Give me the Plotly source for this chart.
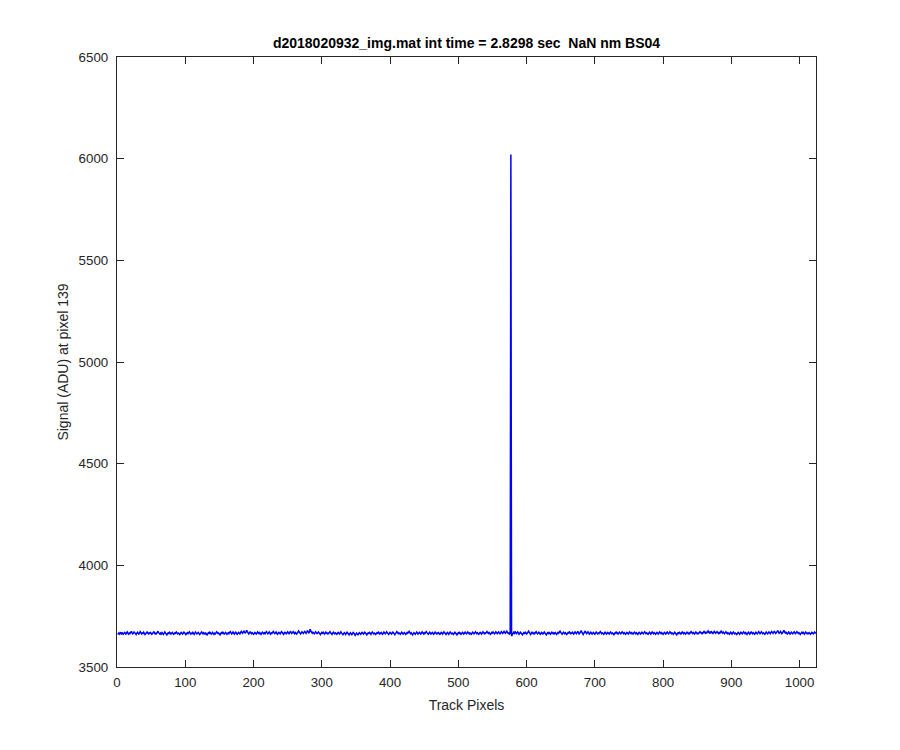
import plotly.graph_objects as go

title_text = "d2018020932_img.mat int time = 2.8298 sec  NaN nm BS04"
x_label = "Track Pixels"
y_label = "Signal (ADU) at pixel 139"

x_ticks = [0, 100, 200, 300, 400, 500, 600, 700, 800, 900, 1000]
y_ticks = [3500, 4000, 4500, 5000, 5500, 6000, 6500]

signal = [
    3660, 3664, 3668, 3662, 3666, 3671, 3663, 3667, 3660, 3665, 3670, 3666, 3662, 3669, 3673, 3665, 3661, 3667, 3664, 3670, 3675, 3668, 3663, 3666, 3672, 3669, 3664, 3660, 3667, 3671, 3665, 3662,
    3668, 3674, 3669, 3663, 3667, 3665, 3671, 3666, 3660, 3664, 3669, 3672, 3667, 3663, 3668, 3665, 3670, 3666, 3661, 3665, 3669, 3673, 3668, 3662, 3666, 3664, 3670, 3676, 3669, 3665, 3661, 3667,
    3663, 3669, 3665, 3660, 3666, 3672, 3667, 3663, 3658, 3664, 3668, 3665, 3671, 3667, 3662, 3666, 3670, 3665, 3661, 3664, 3669, 3666, 3672, 3668, 3663, 3667, 3664, 3660, 3665, 3670, 3667, 3662,
    3666, 3671, 3668, 3663, 3659, 3665, 3669, 3664, 3668, 3673, 3667, 3662, 3666, 3664, 3670, 3665, 3661, 3667, 3672, 3668, 3663, 3666, 3670, 3665, 3660, 3664, 3668, 3672, 3667, 3663, 3669, 3665,
    3662, 3667, 3663, 3658, 3664, 3669, 3666, 3671, 3667, 3662, 3665, 3670, 3664, 3660, 3666, 3663, 3668, 3673, 3669, 3664, 3667, 3662, 3658, 3665, 3669, 3666, 3671, 3667, 3662, 3665, 3670, 3666,
    3661, 3665, 3669, 3664, 3668, 3674, 3669, 3663, 3667, 3672, 3666, 3662, 3668, 3671, 3666, 3661, 3665, 3670, 3667, 3663, 3669, 3675, 3670, 3666, 3672, 3678, 3671, 3666, 3673, 3681, 3674, 3668,
    3663, 3667, 3672, 3668, 3664, 3669, 3666, 3661, 3665, 3670, 3666, 3662, 3667, 3673, 3668, 3664, 3669, 3665, 3660, 3666, 3671, 3667, 3663, 3668, 3664, 3670, 3674, 3668, 3663, 3667, 3672, 3666,
    3662, 3668, 3665, 3670, 3675, 3669, 3664, 3667, 3672, 3666, 3661, 3666, 3670, 3667, 3663, 3669, 3674, 3670, 3665, 3661, 3667, 3671, 3668, 3663, 3667, 3673, 3669, 3664, 3668, 3676, 3670, 3665,
    3669, 3674, 3668, 3664, 3670, 3667, 3662, 3666, 3671, 3677, 3672, 3667, 3663, 3668, 3673, 3669, 3665, 3670, 3675, 3671, 3666, 3672, 3679, 3674, 3668, 3673, 3686, 3676, 3670, 3666, 3671, 3667,
    3663, 3668, 3673, 3669, 3664, 3667, 3672, 3668, 3663, 3659, 3665, 3670, 3666, 3671, 3667, 3662, 3666, 3672, 3668, 3663, 3667, 3664, 3669, 3674, 3668, 3664, 3660, 3666, 3671, 3667, 3663, 3668,
    3665, 3661, 3666, 3670, 3666, 3662, 3667, 3673, 3668, 3663, 3659, 3664, 3669, 3665, 3660, 3666, 3671, 3667, 3662, 3658, 3664, 3668, 3663, 3659, 3665, 3670, 3666, 3661, 3656, 3662, 3667, 3663,
    3659, 3664, 3669, 3665, 3661, 3666, 3670, 3667, 3662, 3666, 3671, 3667, 3663, 3658, 3664, 3668, 3665, 3670, 3666, 3661, 3667, 3672, 3668, 3663, 3667, 3664, 3660, 3665, 3669, 3666, 3671, 3667,
    3662, 3666, 3670, 3665, 3661, 3667, 3672, 3668, 3663, 3667, 3673, 3669, 3664, 3660, 3665, 3670, 3667, 3662, 3666, 3671, 3668, 3663, 3659, 3664, 3669, 3674, 3669, 3664, 3668, 3665, 3661, 3666,
    3671, 3667, 3662, 3666, 3669, 3664, 3660, 3665, 3670, 3666, 3671, 3675, 3669, 3664, 3668, 3663, 3658, 3664, 3669, 3665, 3661, 3667, 3672, 3667, 3662, 3666, 3670, 3666, 3662, 3667, 3673, 3668,
    3663, 3668, 3664, 3669, 3674, 3669, 3665, 3661, 3666, 3671, 3667, 3662, 3666, 3670, 3665, 3661, 3667, 3672, 3668, 3663, 3667, 3664, 3669, 3666, 3661, 3665, 3670, 3667, 3662, 3668, 3673, 3668,
    3664, 3660, 3665, 3670, 3666, 3661, 3667, 3672, 3668, 3663, 3667, 3664, 3660, 3666, 3671, 3667, 3662, 3658, 3664, 3669, 3665, 3670, 3666, 3661, 3665, 3670, 3667, 3662, 3666, 3672, 3668, 3663,
    3667, 3672, 3668, 3663, 3668, 3665, 3661, 3666, 3671, 3667, 3663, 3668, 3673, 3668, 3664, 3669, 3665, 3661, 3666, 3670, 3667, 3662, 3667, 3673, 3669, 3664, 3668, 3665, 3670, 3674, 3669, 3665,
    3670, 3666, 3661, 3665, 3670, 3667, 3672, 3668, 3663, 3667, 3673, 3669, 3664, 3668, 3672, 3667, 3663, 3668, 3674, 3670, 3665, 3669, 3675, 3670, 3666, 3671, 3676, 3670, 3665, 3668, 3662, 3666,
    6020, 3652, 3660, 3662, 3670, 3666, 3675, 3670, 3664, 3668, 3673, 3667, 3661, 3666, 3671, 3667, 3662, 3658, 3664, 3669, 3666, 3671, 3667, 3662, 3666, 3671, 3676, 3670, 3665, 3660, 3666, 3671,
    3667, 3663, 3668, 3664, 3669, 3674, 3668, 3663, 3667, 3671, 3666, 3661, 3665, 3670, 3666, 3662, 3667, 3672, 3667, 3662, 3658, 3664, 3669, 3665, 3670, 3666, 3661, 3666, 3671, 3667, 3663, 3668,
    3664, 3669, 3665, 3660, 3665, 3670, 3666, 3671, 3676, 3670, 3665, 3661, 3666, 3671, 3667, 3663, 3668, 3664, 3660, 3665, 3670, 3667, 3672, 3668, 3663, 3667, 3671, 3666, 3662, 3667, 3673, 3668,
    3664, 3669, 3675, 3669, 3663, 3667, 3673, 3679, 3671, 3665, 3660, 3666, 3672, 3677, 3670, 3664, 3668, 3673, 3668, 3662, 3666, 3671, 3667, 3662, 3666, 3670, 3665, 3661, 3667, 3672, 3668, 3663,
    3667, 3664, 3669, 3674, 3669, 3664, 3668, 3665, 3661, 3666, 3671, 3667, 3662, 3666, 3670, 3666, 3662, 3667, 3672, 3668, 3663, 3667, 3663, 3659, 3665, 3670, 3666, 3671, 3667, 3662, 3666, 3671,
    3667, 3663, 3668, 3673, 3668, 3664, 3669, 3665, 3661, 3666, 3670, 3666, 3662, 3667, 3672, 3668, 3664, 3669, 3666, 3662, 3667, 3671, 3667, 3663, 3668, 3664, 3660, 3666, 3670, 3667, 3662, 3666,
    3671, 3667, 3663, 3668, 3673, 3669, 3664, 3668, 3665, 3661, 3666, 3671, 3667, 3662, 3667, 3672, 3668, 3664, 3669, 3665, 3661, 3666, 3670, 3666, 3662, 3667, 3672, 3668, 3664, 3669, 3665, 3661,
    3666, 3670, 3666, 3662, 3667, 3672, 3667, 3663, 3668, 3673, 3669, 3664, 3668, 3665, 3661, 3666, 3671, 3667, 3662, 3658, 3664, 3669, 3665, 3670, 3666, 3662, 3667, 3672, 3668, 3664, 3669, 3666,
    3662, 3667, 3671, 3667, 3663, 3668, 3664, 3669, 3674, 3669, 3665, 3670, 3666, 3662, 3667, 3672, 3668, 3663, 3667, 3664, 3669, 3674, 3670, 3665, 3669, 3665, 3670, 3675, 3670, 3666, 3671, 3668,
    3672, 3677, 3671, 3667, 3672, 3668, 3673, 3669, 3665, 3670, 3675, 3670, 3666, 3671, 3674, 3669, 3665, 3670, 3666, 3671, 3676, 3671, 3667, 3672, 3668, 3664, 3669, 3673, 3668, 3664, 3669, 3665,
    3661, 3666, 3671, 3667, 3662, 3667, 3672, 3668, 3663, 3667, 3664, 3660, 3665, 3670, 3666, 3661, 3666, 3671, 3667, 3663, 3668, 3673, 3668, 3664, 3669, 3665, 3660, 3666, 3671, 3667, 3662, 3667,
    3672, 3668, 3664, 3669, 3665, 3661, 3666, 3671, 3667, 3663, 3668, 3674, 3669, 3664, 3668, 3673, 3669, 3664, 3668, 3665, 3661, 3667, 3672, 3668, 3663, 3667, 3672, 3668, 3664, 3669, 3674, 3670,
    3665, 3670, 3676, 3670, 3665, 3669, 3674, 3679, 3672, 3666, 3670, 3675, 3669, 3664, 3668, 3673, 3680, 3673, 3667, 3671, 3666, 3662, 3667, 3672, 3667, 3662, 3666, 3671, 3667, 3663, 3668, 3673,
    3668, 3664, 3669, 3674, 3670, 3665, 3669, 3664, 3660, 3665, 3670, 3666, 3671, 3667, 3662, 3667, 3672, 3668, 3663, 3667, 3664, 3669, 3665, 3661, 3666, 3670, 3667, 3663, 3668, 3672, 3667, 3669,
]
pixels = list(range(1, len(signal) + 1))

FONT = "Liberation Sans, Arial, Helvetica, sans-serif"
AX = "#262626"

fig = go.Figure()
fig.add_trace(go.Scatter(
    x=pixels, y=signal, mode="lines",
    line=dict(color="#0000FF", width=1.5),
    hoverinfo="skip", showlegend=False,
))

axis_common = dict(
    showgrid=False, zeroline=False,
    showline=True, linecolor=AX, linewidth=1.3, mirror="ticks",
    ticks="inside", ticklen=7, tickwidth=1, tickcolor=AX,
    tickfont=dict(family=FONT, size=13.3, color=AX),
)

# page body adds an 8 px offset, so the figure is sized 892x742
W, H = 892, 742
L, T, R, B = 109, 49, 84, 83

fig.update_layout(
    width=W, height=H,
    margin=dict(l=L, r=R, t=T, b=B, autoexpand=False),
    paper_bgcolor="white", plot_bgcolor="white",
    title=dict(
        text="<b>" + title_text + "</b>",
        x=(L + (W - R)) / 2 / W, xanchor="center",
        y=1 - 35 / H, yanchor="middle", yref="container",
        font=dict(family=FONT, size=14, color="black"),
    ),
    xaxis=dict(
        range=[0, 1024], tickvals=x_ticks, ticklabelstandoff=3,
        title=dict(text=x_label, font=dict(family=FONT, size=14, color=AX), standoff=11),
        **axis_common,
    ),
    yaxis=dict(
        range=[3500, 6500], tickvals=y_ticks, ticklabelstandoff=5,
        title=dict(text=y_label, font=dict(family=FONT, size=14, color=AX), standoff=6),
        **axis_common,
    ),
)

fig.write_html("out.html")
